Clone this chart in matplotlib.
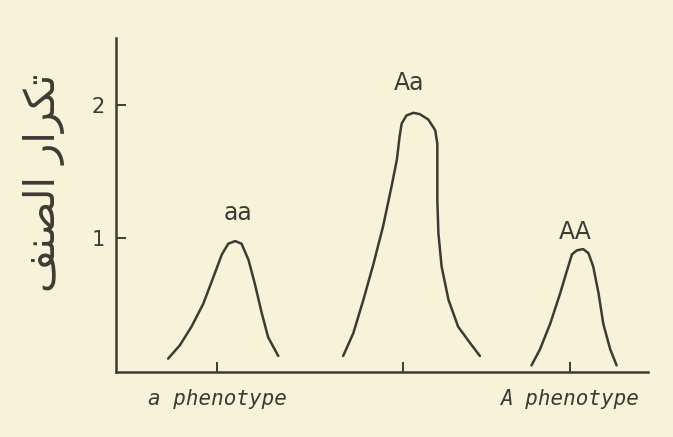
import matplotlib.pyplot as plt

# --------------------------- Data ---------------------------

# aa curve
aa_x = [0.98, 1.20, 1.42, 1.64, 1.83, 1.99, 2.11, 2.24, 2.36, 2.49, 2.61, 2.74, 2.86, 3.05]
aa_y = [0.10, 0.20, 0.34, 0.51, 0.71, 0.88, 0.96, 0.98, 0.96, 0.84, 0.66, 0.44, 0.26, 0.12]

# Aa curve
Aa_x = [4.27, 4.46, 4.65, 4.84, 5.02, 5.18, 5.28, 5.33, 5.37, 5.46, 5.59, 5.71,
        5.87, 6.00, 6.04, 6.04, 6.04, 6.06, 6.12, 6.25, 6.43, 6.65, 6.84]
Aa_y = [0.12, 0.29, 0.54, 0.81, 1.09, 1.39, 1.59, 1.76, 1.86, 1.92, 1.94, 1.93,
        1.89, 1.81, 1.71, 1.54, 1.29, 1.04, 0.79, 0.54, 0.34, 0.22, 0.12]

# AA curve
AA_x = [7.81, 7.97, 8.16, 8.35, 8.47, 8.57, 8.66, 8.78, 8.88, 8.97, 9.07, 9.16, 9.29, 9.41]
AA_y = [0.05, 0.17, 0.36, 0.59, 0.75, 0.88, 0.91, 0.92, 0.89, 0.79, 0.59, 0.36, 0.17, 0.05]

genotypes = ['aa', 'Aa', 'AA']
label_x = [2.30, 5.50, 8.64]
label_y = [1.19, 2.16, 1.05]

x_ticks = [1.90, 5.40, 8.53]
x_tick_labels = ['a phenotype', '', 'A phenotype']
y_ticks = [1, 2]

# "تكرار الصنف" written in visual order with presentation forms (no shaping in matplotlib)
y_label = '\ufed2\ufee8\ufebc\ufedf\ufe8d \ufead\ufe8d\ufeae\ufedc\ufe97'

# --------------------------- Plot ---------------------------

bg = '#f6f3d8'
ink = '#3e3b36'

fig = plt.figure(figsize=(6.73, 4.37), dpi=100, facecolor=bg)
ax = fig.add_axes([116 / 673, 65 / 437, 532 / 673, 334 / 437], facecolor=bg)

for xs, ys in [(aa_x, aa_y), (Aa_x, Aa_y), (AA_x, AA_y)]:
    ax.plot(xs, ys, color=ink, lw=1.8, solid_capstyle='round', solid_joinstyle='round')

for name, lx, ly in zip(genotypes, label_x, label_y):
    ax.text(lx, ly, name, ha='center', va='center', fontsize=17, color=ink)

ax.set_xlim(0, 10)
ax.set_ylim(0, 2.5)

ax.spines['top'].set_visible(False)
ax.spines['right'].set_visible(False)
for s in ['left', 'bottom']:
    ax.spines[s].set_color(ink)
    ax.spines[s].set_linewidth(1.8)

ax.set_xticks(x_ticks)
ax.set_xticklabels(x_tick_labels, fontsize=15, style='italic', color=ink,
                   family='DejaVu Sans Mono')
ax.set_yticks(y_ticks)
ax.set_yticklabels([str(v) for v in y_ticks], fontsize=15, color=ink)
ax.tick_params(axis='both', direction='in', length=7, width=1.4, color=ink)
ax.tick_params(axis='x', pad=12)
ax.tick_params(axis='y', pad=8)

ax.set_ylabel(y_label, fontsize=30, color=ink, family='DejaVu Sans')
ax.yaxis.set_label_coords(-0.095, 0.566)

fig.savefig('out.png', dpi=100, facecolor=bg)
